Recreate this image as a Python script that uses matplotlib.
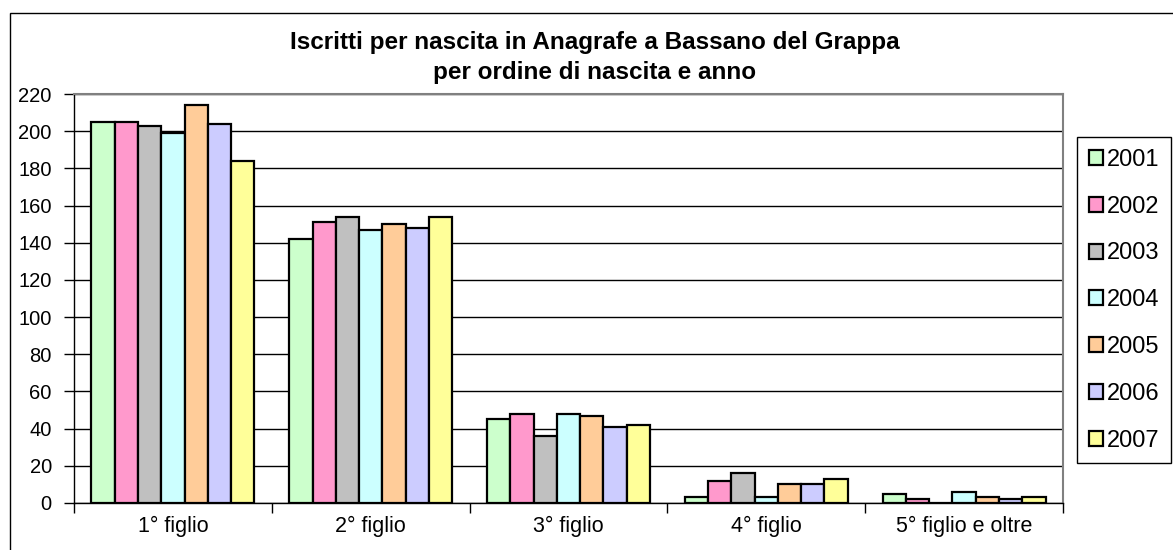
import numpy as np
import matplotlib
matplotlib.use("Agg")
import matplotlib.pyplot as plt
from matplotlib.patches import Rectangle

plt.rcParams['font.family'] = ['Liberation Sans', 'DejaVu Sans']

categorie = ["1° figlio", "2° figlio", "3° figlio", "4° figlio", "5° figlio e oltre"]
anni = ["2001", "2002", "2003", "2004", "2005", "2006", "2007"]
valori = {
    "2001": [205, 142, 45, 3, 5],
    "2002": [205, 151, 48, 12, 2],
    "2003": [203, 154, 36, 16, 0],
    "2004": [199, 147, 48, 3, 6],
    "2005": [214, 150, 47, 10, 3],
    "2006": [204, 148, 41, 10, 2],
    "2007": [184, 154, 42, 13, 3],
}
colori = ["#CCFFCC", "#FF99CC", "#C0C0C0", "#CCFFFF", "#FFCC99", "#CCCCFF", "#FFFF99"]

W, H = 1173, 550
fig = plt.figure(figsize=(W / 100, H / 100), dpi=100)
ax = fig.add_axes([74 / W, 1 - 503 / H, (1063 - 74) / W, (503 - 94) / H])

n = len(anni)
bw = 1 / (n + 1.5)  # gap 150% come in Excel
xc = np.arange(len(categorie)) + 0.5
handles = []
for i, anno in enumerate(anni):
    x = xc - 3.5 * bw + (i + 0.5) * bw
    h = ax.bar(x, valori[anno], width=bw, color=colori[i], edgecolor="black",
               linewidth=1.6, zorder=3, label=anno)
    handles.append(h)

ax.set_xlim(0, len(categorie))
ax.set_ylim(0, 220)
ax.set_yticks(np.arange(0, 221, 20))
ax.yaxis.grid(True, color="black", linewidth=1, zorder=0)
ax.set_xticks(xc)
ax.set_xticklabels(categorie)
ax.set_xticks(np.arange(0, len(categorie) + 1), minor=True)
ax.tick_params(axis="x", which="major", length=0, pad=9, labelsize=15.5)
ax.tick_params(axis="x", which="minor", length=7, width=1, direction="out")
ax.tick_params(axis="y", length=7, width=1, direction="out", labelsize=14.5, pad=9)
for s in ["left", "bottom"]:
    ax.spines[s].set_color("black")
    ax.spines[s].set_linewidth(1)
for s in ["top", "right"]:
    ax.spines[s].set_color("#808080")
    ax.spines[s].set_linewidth(1.5)

fig.text(595 / W, 1 - 42 / H, "Iscritti per nascita in Anagrafe a Bassano del Grappa",
         ha="center", va="center", fontsize=17.5, fontweight="bold")
fig.text(595 / W, 1 - 72 / H, "per ordine di nascita e anno",
         ha="center", va="center", fontsize=17.5, fontweight="bold")

leg = fig.legend(handles=handles, labels=anni, loc="upper left",
                 bbox_to_anchor=(1077 / W, 1 - 137 / H), borderaxespad=0,
                 fontsize=17, handlelength=0.6, handleheight=0.6,
                 handletextpad=0.15, labelspacing=1.05, borderpad=0.5,
                 fancybox=False, framealpha=1, edgecolor="black")
leg.get_frame().set_linewidth(1)

fig.patches.append(Rectangle((10 / W, -0.1), 2, (550 - 13) / H + 0.1,
                             transform=fig.transFigure, fill=False,
                             edgecolor="black", linewidth=1))

fig.savefig("out.png", dpi=100)
